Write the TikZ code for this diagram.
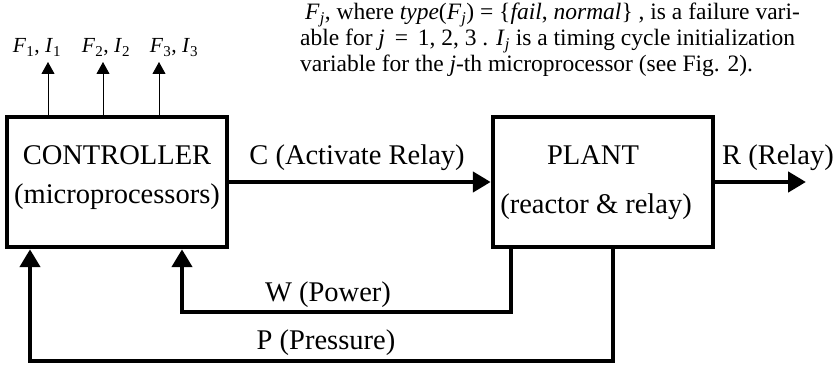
\documentclass[tikz,border=0pt]{standalone}
\usepackage{fontspec}
\setmainfont{Liberation Serif}
\usetikzlibrary{arrows.meta}
\newcommand{\sbs}[1]{\textsubscript{#1}}
\begin{document}
\begin{tikzpicture}[x=1pt,y=-1pt,
 blk/.style={draw, line width=4.5pt, minimum width=220pt, minimum height=130pt, inner sep=0pt},
 big/.style={font=\fontsize{28.5}{30}\selectfont, inner sep=0pt},
 small/.style={font=\fontsize{21.5}{24}\selectfont, inner sep=0pt},
 note/.style={font=\fontsize{23.5}{26}\selectfont, inner sep=0pt},
 flow/.style={line width=4.5pt, -{Triangle[length=18pt,width=20pt]}},
 sig/.style={line width=0.9pt, -{Triangle[length=12pt,width=13pt]}},
]
\useasboundingbox (0,0) rectangle (839,366);
\node[blk] (ctrl) at (117,182) {};
\node[blk] (plant) at (603,182) {};
\node[big, anchor=base] (ctrlA) at (117,165) {CONTROLLER};
\node[big, anchor=base] (ctrlB) at (117,204) {(microprocessors)};
\node[big, anchor=base] (plA) at (593,165) {PLANT};
\node[big, anchor=base] (plB) at (596,214) {(reactor \& relay)};
% C and R
\draw[flow] (ctrl.east) -- (plant.west);
\node[big, anchor=base] (clab) at (357,165) {C (Activate Relay)};
\coordinate (rend) at (806,182);
\draw[flow] (plant.east) -- (rend);
\node[big, anchor=base west] (rlab) at (722,165) {R (Relay)};
% W and P
\draw[flow] ([xshift=-92pt]plant.south) -- ++(0,63) -| ([xshift=65pt]ctrl.south);
\draw[flow] ([xshift=10pt]plant.south) -- ++(0,112) -| ([xshift=-87pt]ctrl.south);
\node[big, anchor=base] (wlab) at (328,302) {W (Power)};
\node[big, anchor=base] (plab) at (326,350) {P (Pressure)};
% F, I outputs
\coordinate (f1) at (48,62);
\coordinate (f2) at (103,62);
\coordinate (f3) at (159,62);
\draw[sig] ([xshift=-69pt]ctrl.north) -- (f1);
\draw[sig] ([xshift=-14pt]ctrl.north) -- (f2);
\draw[sig] ([xshift=42pt]ctrl.north) -- (f3);
\node[small, anchor=base] (fl1) at (37,53) {\textit{F}\sbs{1}, \textit{I}\sbs{1}};
\node[small, anchor=base] (fl2) at (106,53) {\textit{F}\sbs{2}, \textit{I}\sbs{2}};
\node[small, anchor=base] (fl3) at (174,53) {\textit{F}\sbs{3}, \textit{I}\sbs{3}};
% explanatory text
\node[note, anchor=base west] (t1) at (305,20) {\textit{F}\sbs{\textit{j}}, where \textit{type}(\textit{F}\sbs{\textit{j}}) = \{\textit{fail}, \textit{normal}\} , is a failure vari-};
\node[note, anchor=base west] (t2) at (300,46) {able for \textit{j} \,=\, 1, 2, 3 . \textit{I}\sbs{\textit{j}} is a timing cycle initialization};
\node[note, anchor=base west] (t3) at (300,72) {variable for the \textit{j}-th microprocessor (see Fig. 2).};
\end{tikzpicture}
\end{document}
